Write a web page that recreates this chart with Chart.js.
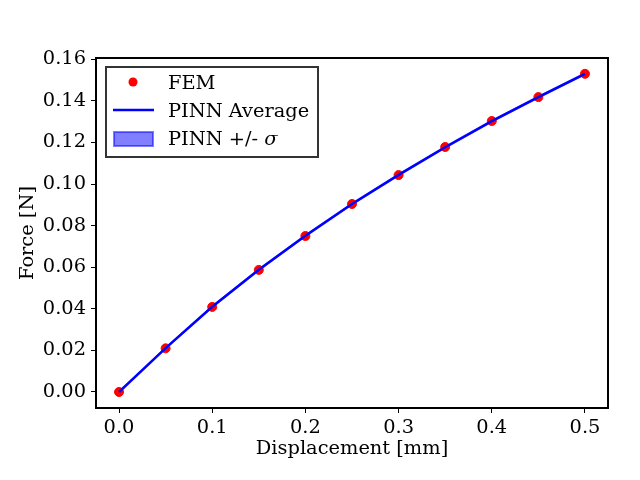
<!DOCTYPE html>
<html>
<head>
<meta charset="utf-8">
<script src="https://cdn.jsdelivr.net/npm/chart.js@4/dist/chart.umd.min.js"></script>
<style>
  html, body { margin: 0; padding: 0; background: #fff; }
  #wrap { width: 640px; height: 480px; position: relative; }
</style>
</head>
<body>
<div id="wrap"><canvas id="forceChart"></canvas></div>
<script>
// values
const displacement = [0.00, 0.05, 0.10, 0.15, 0.20, 0.25, 0.30, 0.35, 0.40, 0.45, 0.50]
const femForce = [0.0000, 0.0210, 0.0409, 0.0587, 0.0750, 0.0904, 0.1043, 0.1178, 0.1303, 0.1418, 0.1530]
const pinnMean = [0.0000, 0.0211, 0.0410, 0.0588, 0.0751, 0.0904, 0.1044, 0.1177, 0.1302, 0.1418, 0.1530]
const pinnStd = [0.0002, 0.0005, 0.0006, 0.0006, 0.0006, 0.0006, 0.0006, 0.0006, 0.0006, 0.0006, 0.0006]
const xTicks = [0.0, 0.1, 0.2, 0.3, 0.4, 0.5]
const yTicks = [0.00, 0.02, 0.04, 0.06, 0.08, 0.10, 0.12, 0.14, 0.16]

const FONT = "'DejaVu Serif', 'Liberation Serif', serif"
const FSIZE = 19.4
Chart.defaults.font.family = FONT
Chart.defaults.font.size = FSIZE
Chart.defaults.color = '#000'

function pts(ys) {
    return displacement.map((x, i) => ({x: x, y: ys[i]}))
}
const upper = pinnMean.map((m, i) => m + pinnStd[i])
const lower = pinnMean.map((m, i) => m - pinnStd[i])

// frame round the plot area, like matplotlib spines
const framePlugin = {
    id: 'frame',
    afterDatasetsDraw(chart) {
        const {ctx, chartArea: a} = chart
        ctx.save()
        ctx.strokeStyle = '#000'
        ctx.lineWidth = 2
        ctx.strokeRect(a.left, a.top, a.right - a.left, a.bottom - a.top)
        ctx.restore()
    }
}

// legend box inside the axes (upper left)
const boxLegend = {
    id: 'boxLegend',
    afterDraw(chart) {
        const ctx = chart.ctx
        const bx = 106, by = 67, bw = 212, bh = 90
        ctx.save()
        ctx.fillStyle = '#fff'
        ctx.fillRect(bx, by, bw, bh)
        ctx.strokeStyle = '#333'
        ctx.lineWidth = 2
        ctx.strokeRect(bx, by, bw, bh)

        const textX = 168
        const rows = [84, 112, 140]
        ctx.font = FSIZE + "px " + FONT
        ctx.fillStyle = '#000'
        ctx.textBaseline = 'middle'
        ctx.textAlign = 'left'

        // FEM marker
        ctx.beginPath()
        ctx.arc(133, 82, 4.5, 0, Math.PI * 2)
        ctx.fillStyle = 'red'
        ctx.fill()
        ctx.fillStyle = '#000'
        ctx.fillText(chart.data.datasets[0].label, textX, rows[0])

        // PINN line
        ctx.beginPath()
        ctx.moveTo(113, 110)
        ctx.lineTo(154, 110)
        ctx.strokeStyle = 'blue'
        ctx.lineWidth = 2.5
        ctx.stroke()
        ctx.fillText(chart.data.datasets[1].label, textX, rows[1])

        // band patch
        ctx.fillStyle = 'rgba(0,0,255,0.5)'
        ctx.fillRect(114, 132, 39, 14)
        ctx.strokeStyle = 'rgba(0,0,255,0.5)'
        ctx.lineWidth = 2
        ctx.strokeRect(114, 132, 39, 14)
        ctx.fillStyle = '#000'
        const lead = 'PINN +/- '
        ctx.fillText(lead, textX, rows[2])
        const w = ctx.measureText(lead).width
        ctx.font = "italic " + FSIZE + "px " + FONT
        ctx.fillText('\u03c3', textX + w, rows[2])
        ctx.restore()
    }
}

new Chart(document.getElementById('forceChart'), {
    type: 'scatter',
    data: {
        datasets: [
            {
                label: 'FEM',
                data: pts(femForce),
                backgroundColor: 'red',
                borderColor: 'red',
                pointRadius: 4.5,
                pointHoverRadius: 4.5,
                showLine: false,
                order: 1
            },
            {
                label: 'PINN Average',
                data: pts(pinnMean),
                borderColor: 'blue',
                borderWidth: 2.5,
                pointRadius: 0,
                showLine: true,
                tension: 0,
                order: 0
            },
            {
                label: 'PINN +/- \u03c3',
                data: pts(upper),
                borderColor: 'rgba(0,0,255,0.5)',
                borderWidth: 0.5,
                backgroundColor: 'rgba(0,0,255,0.5)',
                pointRadius: 0,
                showLine: true,
                fill: '+1',
                order: 2
            },
            {
                label: 'lower',
                data: pts(lower),
                borderColor: 'rgba(0,0,255,0.5)',
                borderWidth: 0.5,
                pointRadius: 0,
                showLine: true,
                fill: false,
                order: 3
            }
        ]
    },
    options: {
        responsive: true,
        maintainAspectRatio: false,
        devicePixelRatio: 1,
        animation: false,
        layout: {padding: {top: 58, right: 32, left: 12, bottom: 16}},
        plugins: {
            legend: {display: false},
            tooltip: {enabled: false}
        },
        scales: {
            x: {
                type: 'linear',
                min: -0.0247,
                max: 0.5247,
                afterBuildTicks: (s) => { s.ticks = xTicks.map(v => ({value: v})) },
                afterFit: (s) => { s.height = 56 },
                ticks: {
                    callback: (v) => v.toFixed(1),
                    padding: 3,
                    maxRotation: 0,
                    color: '#000'
                },
                grid: {drawOnChartArea: false, drawTicks: true, tickLength: 5, color: '#000', lineWidth: 1},
                border: {display: false},
                title: {display: true, text: 'Displacement [mm]', color: '#000', padding: {top: 0, bottom: 3}}
            },
            y: {
                type: 'linear',
                min: -0.0077,
                max: 0.1606,
                afterBuildTicks: (s) => { s.ticks = yTicks.map(v => ({value: v})) },
                afterFit: (s) => { s.width = 84 },
                ticks: {
                    callback: (v) => v.toFixed(2),
                    padding: 5,
                    color: '#000'
                },
                grid: {drawOnChartArea: false, drawTicks: true, tickLength: 5, color: '#000', lineWidth: 1},
                border: {display: false},
                title: {display: true, text: 'Force [N]', color: '#000', padding: {top: 4, bottom: 0}}
            }
        }
    },
    plugins: [framePlugin, boxLegend]
})
</script>
</body>
</html>
